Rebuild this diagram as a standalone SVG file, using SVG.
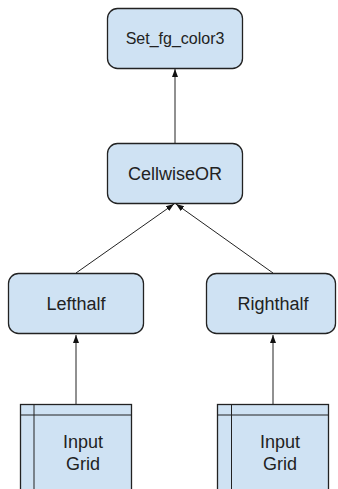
<svg xmlns="http://www.w3.org/2000/svg" width="338" height="489" viewBox="0 0 338 489">
<defs>
<style>
.box{fill:#cfe2f3;stroke:#222;stroke-width:1.3}
.ln{fill:none;stroke:#222;stroke-width:1}
.t{font-family:"Liberation Sans",Arial,sans-serif;font-size:18px;fill:#222;text-anchor:middle}
.s{font-size:16px}
</style>
<marker id="ah" viewBox="0 0 8 8" refX="8" refY="4" markerWidth="8" markerHeight="8" markerUnits="userSpaceOnUse" orient="auto">
<path d="M0,1 L8,4 L0,7 Z" fill="#111"/>
</marker>
</defs>
<g id="connectors">
<line class="ln" x1="175" y1="143" x2="175" y2="69" marker-end="url(#ah)"/>
<line class="ln" x1="76" y1="273" x2="174" y2="204" marker-end="url(#ah)"/>
<line class="ln" x1="273" y1="273" x2="176" y2="204" marker-end="url(#ah)"/>
<line class="ln" x1="76" y1="404" x2="76" y2="335" marker-end="url(#ah)"/>
<line class="ln" x1="273" y1="404" x2="273" y2="335" marker-end="url(#ah)"/>
</g>
<g id="set_fg_color3">
<rect class="box" x="107.5" y="8.5" width="135" height="60" rx="10"/>
<text class="t s" x="175" y="44">Set_fg_color3</text>
</g>
<g id="cellwiseor">
<rect class="box" x="107.5" y="143.5" width="135" height="60" rx="10"/>
<text class="t" x="175" y="180">CellwiseOR</text>
</g>
<g id="lefthalf">
<rect class="box" x="8.5" y="273.5" width="135" height="60" rx="10"/>
<text class="t" x="76" y="310">Lefthalf</text>
</g>
<g id="righthalf">
<rect class="box" x="206.5" y="273.5" width="129" height="60" rx="10"/>
<text class="t" x="273" y="310">Righthalf</text>
</g>
<g id="input_grid_left">
<rect class="box" x="20.5" y="404.5" width="111" height="90"/>
<line class="ln" x1="20.5" y1="415" x2="131.5" y2="415"/>
<line class="ln" x1="34" y1="404.5" x2="34" y2="494"/>
<text class="t" x="83" y="448">Input</text>
<text class="t" x="83" y="470">Grid</text>
</g>
<g id="input_grid_right">
<rect class="box" x="217.5" y="404.5" width="111" height="90"/>
<line class="ln" x1="217.5" y1="415" x2="328.5" y2="415"/>
<line class="ln" x1="231.5" y1="404.5" x2="231.5" y2="494"/>
<text class="t" x="280" y="448">Input</text>
<text class="t" x="280" y="470">Grid</text>
</g>
</svg>
